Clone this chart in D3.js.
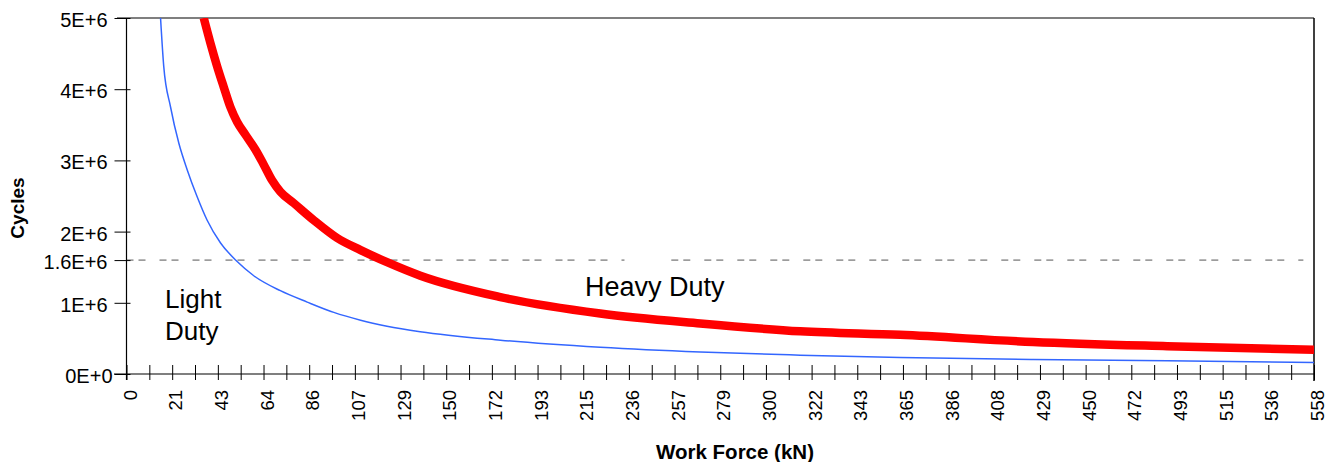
<!DOCTYPE html>
<html>
<head>
<meta charset="utf-8">
<script src="https://cdn.jsdelivr.net/npm/d3@7"></script>
<style>
  html, body { margin: 0; padding: 0; background: #fff; }
  svg { display: block; }
  text { font-family: "Liberation Sans", Arial, Helvetica, sans-serif; fill: #000; }
</style>
</head>
<body>
<svg id="chart" width="1338" height="462"></svg>
<script>
// ---- data ----
const lightX = [16.0, 17.5, 20.7, 24.6, 28.5, 33.2, 37.9, 44.2, 52.0, 59.8, 72.3, 84.9, 97.4, 110, 122.4, 138, 175.7, 222.6, 269.6, 316.6, 363.5, 426, 489, 558];
const lightY = [5.0e6, 4.32e6, 3.75e6, 3.24e6, 2.87e6, 2.49e6, 2.16e6, 1.84e6, 1.58e6, 1.38e6, 1.17e6, 1.01e6, 0.865e6, 0.755e6, 0.672e6, 0.594e6, 0.475e6, 0.375e6, 0.308e6, 0.265e6, 0.232e6, 0.204e6, 0.185e6, 0.162e6];

const heavyX = [36.3, 39.5, 42.6, 45.7, 48.8, 52.0, 55.9, 60.6, 64.5, 68.4, 72.3, 78.6, 88.0, 99.0, 110, 122.4, 138.1, 175.7, 222.6, 269.6, 316.6, 363.5, 426, 489, 558];
const heavyY = [5.0e6, 4.64e6, 4.32e6, 4.03e6, 3.75e6, 3.54e6, 3.36e6, 3.15e6, 2.94e6, 2.72e6, 2.56e6, 2.40e6, 2.16e6, 1.91e6, 1.74e6, 1.57e6, 1.38e6, 1.08e6, 0.85e6, 0.71e6, 0.60e6, 0.55e6, 0.45e6, 0.39e6, 0.34e6];

const xTickLabels = ["0","21","43","64","86","107","129","150","172","193","215","236","257","279","300","322","343","365","386","408","429","450","472","493","515","536","558"];
const yTickValues = [0, 1e6, 1.6e6, 2e6, 3e6, 4e6, 5e6];
const yTickLabels = ["0E+0", "1E+6", "1.6E+6", "2E+6", "3E+6", "4E+6", "5E+6"];
const limitCycles = 1.6e6;
const xMax = 558, yMax = 5e6;

// ---- layout ----
const svg = d3.select("#chart");
const pLeft = 126.5, pRight = 1314, pTop = 18, pBottom = 374;
const x = d3.scaleLinear().domain([0, xMax]).range([pLeft, pRight]);
const y = d3.scaleLinear().domain([0, yMax]).range([pBottom, pTop]);

// clip
svg.append("defs").append("clipPath").attr("id", "plotclip")
  .append("rect").attr("x", pLeft - 2).attr("y", pTop).attr("width", pRight - pLeft + 4).attr("height", pBottom - pTop);

// frame: top and right border
svg.append("line").attr("x1", 117).attr("x2", pRight).attr("y1", y(yMax)).attr("y2", y(yMax))
  .attr("stroke", "#000").attr("stroke-width", 1.2);
svg.append("line").attr("x1", pRight).attr("x2", pRight).attr("y1", pTop).attr("y2", 381)
  .attr("stroke", "#000").attr("stroke-width", 1.5);

// dashed limit line (drawn in two runs as in the reference)
const dashRuns = [[0, 234], [256, 553]];
dashRuns.forEach(r => {
  svg.append("line")
    .attr("x1", x(r[0])).attr("x2", x(r[1]))
    .attr("y1", y(limitCycles)).attr("y2", y(limitCycles))
    .attr("stroke", "#555").attr("stroke-width", 1)
    .attr("stroke-dasharray", "7,5,7,14");
});

// y axis
const yAxis = d3.axisLeft(y).tickValues(yTickValues)
  .tickFormat((d, i) => yTickLabels[i]).tickSizeInner(12).tickSizeOuter(0).tickPadding(6);
const gy = svg.append("g").attr("transform", `translate(${pLeft},0)`).call(yAxis);
gy.select(".domain").attr("stroke", "#000").attr("stroke-width", 1.2)
  .attr("d", `M0,${pTop}V380`);
gy.selectAll(".tick line").attr("x2", -12).attr("x1", 4).attr("stroke", "#000");
gy.selectAll(".tick text")
  .attr("font-size", 20)
  .attr("font-family", "Liberation Sans, Arial, sans-serif")
  .attr("dy", "0.42em")
  .attr("x", (d) => d === 0 ? -14 : -19);

// x axis
const nMinor = (xTickLabels.length - 1) * 2;
const xTickVals = d3.range(nMinor + 1).map(i => i * xMax / nMinor);
const xAxis = d3.axisBottom(x).tickValues(xTickVals)
  .tickFormat((d, i) => i % 2 === 0 ? xTickLabels[i / 2] : "")
  .tickSizeInner(6).tickSizeOuter(0);
const gx = svg.append("g").attr("transform", `translate(0,${pBottom})`).call(xAxis);
gx.select(".domain").attr("stroke", "#000").attr("stroke-width", 1.2)
  .attr("d", `M114,0H${pRight}`);
gx.selectAll(".tick line").attr("y1", -9).attr("y2", 6).attr("stroke", "#000");
gx.selectAll(".tick text")
  .attr("font-size", 18.5)
  .attr("font-family", "Liberation Sans, Arial, sans-serif")
  .attr("text-anchor", "end")
  .attr("y", 0)
  .attr("transform", "translate(3,16) rotate(-90)")
  .attr("x", 0)
  .attr("dy", "0.36em");

// lines
const lineGen = d3.line().x(d => x(d[0])).y(d => y(d[1])).curve(d3.curveMonotoneX);
const lightData = lightX.map((v, i) => [v, lightY[i]]);
const heavyData = heavyX.map((v, i) => [v, heavyY[i]]);

const plot = svg.append("g").attr("clip-path", "url(#plotclip)");
plot.append("path").datum(lightData).attr("d", lineGen)
  .attr("fill", "none").attr("stroke", "#3366ff").attr("stroke-width", 1.5);
plot.append("path").datum(heavyData).attr("d", lineGen)
  .attr("fill", "none").attr("stroke", "#ff0000").attr("stroke-width", 8.5)
  .attr("stroke-linejoin", "round");

// curve labels
const lbl = svg.append("g").attr("font-size", 26);
lbl.append("text").attr("x", 165).attr("y", 308).text("Light");
lbl.append("text").attr("x", 165).attr("y", 340).text("Duty");
lbl.append("text").attr("x", 585).attr("y", 296).attr("font-size", 27).text("Heavy Duty");

// axis titles
svg.append("text").attr("x", 735).attr("y", 459)
  .attr("text-anchor", "middle").attr("font-weight", "bold").attr("font-size", 20.5)
  .text("Work Force (kN)");
svg.append("text").attr("transform", "translate(24,208) rotate(-90)")
  .attr("text-anchor", "middle").attr("font-weight", "bold").attr("font-size", 19)
  .text("Cycles");
</script>
</body>
</html>
